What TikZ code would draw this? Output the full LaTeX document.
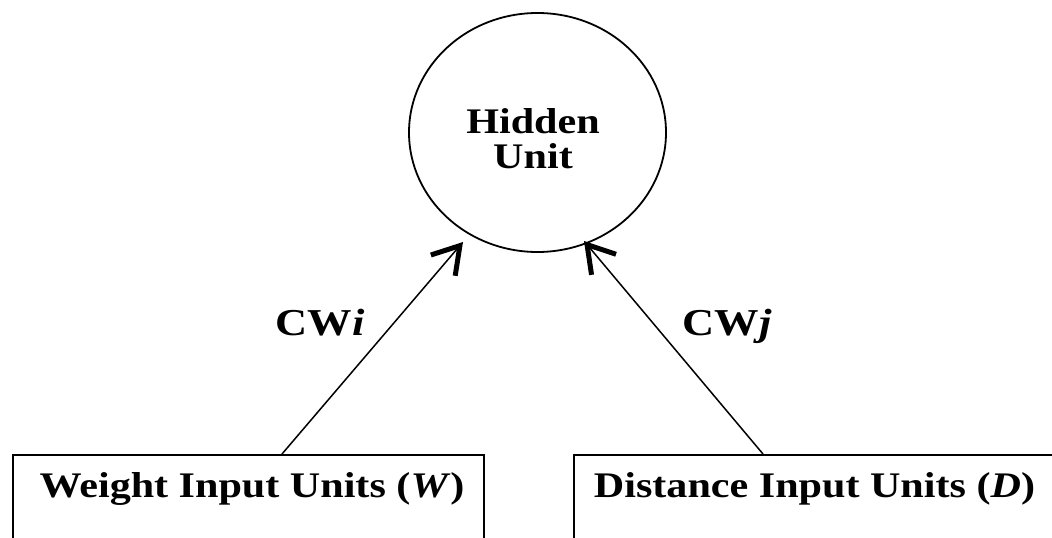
\documentclass[tikz,border=0pt]{standalone}
\usepackage{fontspec}
\setmainfont{Liberation Serif}[FakeStretch=1.17]
\usetikzlibrary{arrows.meta,shapes.geometric}
\begin{document}
\begin{tikzpicture}[x=1pt,y=-1pt,
  lbl/.style={font=\fontsize{36}{35}\selectfont\bfseries, inner sep=0pt},
  wlbl/.style={font=\fontsize{38}{40}\selectfont\bfseries, inner sep=0pt},
  unitbox/.style={draw, line width=1.6pt, rectangle, inner sep=0pt, anchor=north west},
  link/.style={line width=1.5pt, -{Straight Barb[length=26pt, width=32pt, line width=5pt]}}]
  \useasboundingbox (0,0) rectangle (1052,538);
  \clip (0,0) rectangle (1052,538);

  % hidden unit
  \node[draw, ellipse, line width=1.8pt, minimum width=257pt, minimum height=239pt, inner sep=0pt] (hid) at (537.5,132.5) {};
  \node[lbl, align=center, anchor=base] (hidtxt) at (533,168) {Hidden\\Unit};

  % input groups (their lower edges run past the page)
  \node[unitbox, minimum width=471pt, minimum height=110pt] (wbox) at (12,454) {};
  \node[unitbox, minimum width=500pt, minimum height=110pt] (dbox) at (573,454) {};
  \node[lbl, anchor=base] (wtxt) at (252,497) {Weight Input Units (\textit{W})};
  \node[lbl, anchor=base] (dtxt) at (814.5,497) {Distance Input Units (\textit{D})};

  % connection ends
  \coordinate (tipW) at (463,242);
  \coordinate (tipD) at (584,241);
  \draw[link] ([xshift=270pt]wbox.north west) -- (tipW);
  \draw[link] ([xshift=190pt]dbox.north west) -- (tipD);

  % connection weights
  \node[wlbl, anchor=base] (cwi) at (320,335) {CW\textit{i}};
  \node[wlbl, anchor=base] (cwj) at (727,335) {CW\textit{j}};
\end{tikzpicture}
\end{document}
